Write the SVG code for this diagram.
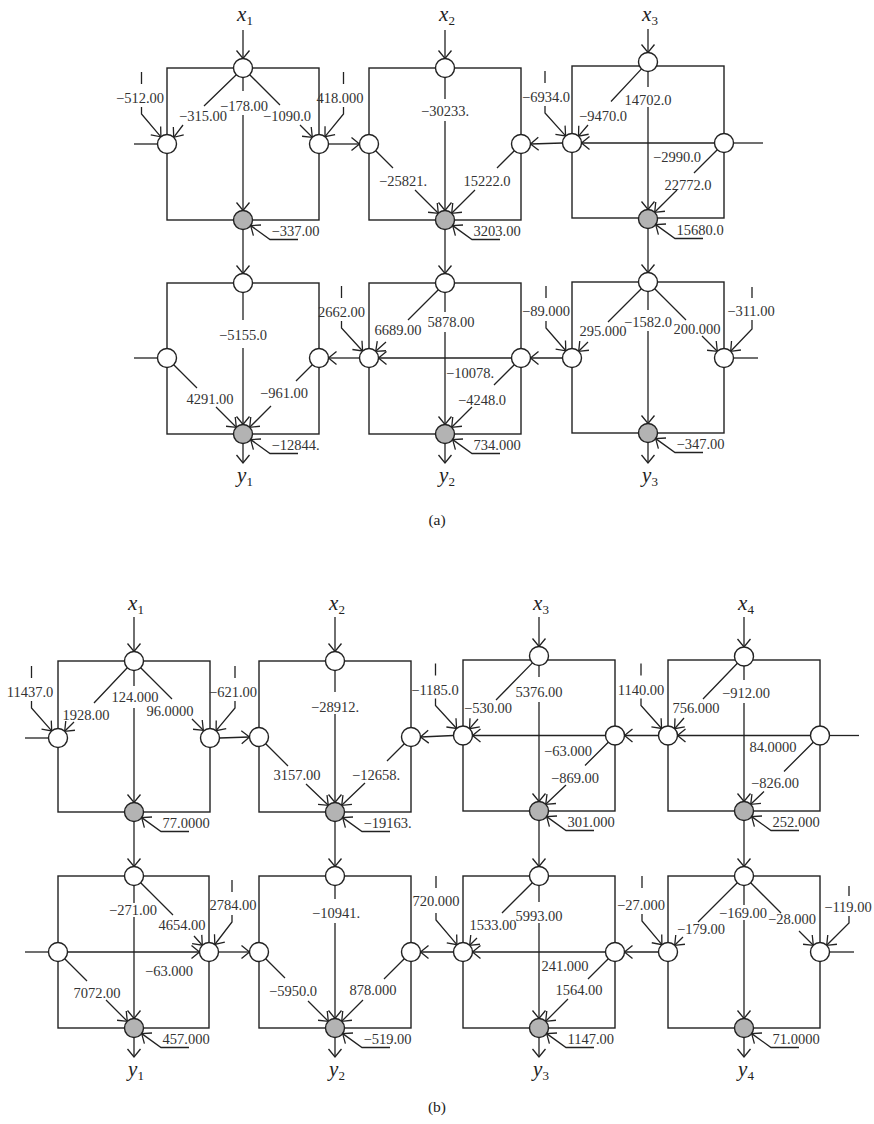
<svg xmlns="http://www.w3.org/2000/svg" width="874" height="1124" viewBox="0 0 874 1124">
<style>
.ln{stroke:#222;stroke-width:1.3;fill:none}
.bx{stroke:#222;stroke-width:1.4;fill:none}
.nd{fill:#fff;stroke:#222;stroke-width:1.4}
.gn{fill:#b3b3b3;stroke:#222;stroke-width:1.4}
.t{font-family:"Liberation Serif",serif;font-size:14.5px;fill:#333;text-anchor:middle}
.ts{font-family:"Liberation Serif",serif;font-size:14.5px;fill:#333;text-anchor:start}
.v{font-family:"Liberation Serif",serif;font-size:21px;fill:#222;text-anchor:middle}
.cap{font-family:"Liberation Serif",serif;font-size:15.5px;fill:#222;text-anchor:middle}
</style>
<defs>
<marker id="a" viewBox="-10 -8 12 16" refX="0" refY="0" markerWidth="12" markerHeight="16" markerUnits="userSpaceOnUse" orient="auto">
<path d="M-8,-6.5 L0,0 L-8,6.5" fill="none" stroke="#222" stroke-width="1.3"/>
</marker>
</defs>
<rect width="874" height="1124" fill="#fff"/>

<!-- boxes -->
<g id="boxes">
<rect class="bx" x="167" y="68" width="152" height="152"/>
<rect class="bx" x="369" y="68" width="152" height="152"/>
<rect class="bx" x="572" y="66" width="152" height="152"/>
<rect class="bx" x="167" y="283" width="152" height="151"/>
<rect class="bx" x="369" y="283" width="152" height="151"/>
<rect class="bx" x="572" y="282" width="152" height="151"/>
<rect class="bx" x="58" y="661" width="152" height="151"/>
<rect class="bx" x="259" y="661" width="152" height="151"/>
<rect class="bx" x="463" y="660" width="152" height="151"/>
<rect class="bx" x="668" y="660" width="152" height="151"/>
<rect class="bx" x="58" y="876" width="151" height="152"/>
<rect class="bx" x="259" y="876" width="152" height="152"/>
<rect class="bx" x="463" y="876" width="152" height="152"/>
<rect class="bx" x="668" y="876" width="152" height="152"/>
</g>

<g id="connectors">
<!-- (a) inputs -->
<path class="ln" marker-end="url(#a)" d="M243,30 L243,58.5"/>
<path class="ln" marker-end="url(#a)" d="M445,30 L445,58.5"/>
<path class="ln" marker-end="url(#a)" d="M648,29 L648,52.5"/>
<!-- A1 -->
<path class="ln" marker-end="url(#a)" d="M243,77.5 L243,91 M243,115 L243,210.5"/>
<path class="ln" marker-end="url(#a)" d="M236.3,74.7 L204,106 M183,125 L173.7,137.3"/>
<path class="ln" marker-end="url(#a)" d="M249.7,74.7 L280,105 M300,125 L312.3,137.3"/>
<path class="ln" marker-end="url(#a)" d="M141.5,72 L141.5,84 M141.5,107 L141.5,114 L160.9,136.8"/>
<path class="ln" marker-end="url(#a)" d="M343.5,72 L343.5,84 M343.5,107 L343.5,114 L325,136.6"/>
<path class="ln" d="M134,144 L157.5,144"/>
<path class="ln" marker-end="url(#a)" d="M328.5,144 L359.5,144"/>
<path class="ln" marker-end="url(#a)" d="M298,239.5 L270,239.5 L250.7,225.6"/>
<path class="ln" marker-end="url(#a)" d="M243,229.5 L243,273.5"/>
<!-- A2 -->
<path class="ln" marker-end="url(#a)" d="M445,77.5 L445,99 M445,121 L445,210.5"/>
<path class="ln" marker-end="url(#a)" d="M375.7,150.7 L393,168 M415,190 L438.3,213.3"/>
<path class="ln" marker-end="url(#a)" d="M514.3,150.7 L497,168 M475,190 L451.7,213.3"/>
<path class="ln" marker-end="url(#a)" d="M562.5,143 L530.5,144"/>
<path class="ln" marker-end="url(#a)" d="M545,71 L545,83 M545,106 L545,113 L565.6,135.9"/>
<path class="ln" marker-end="url(#a)" d="M500,239.5 L472,239.5 L452.7,225.6"/>
<path class="ln" marker-end="url(#a)" d="M445,229.5 L445,273.5"/>
<!-- A3 -->
<path class="ln" marker-end="url(#a)" d="M641.5,68.9 L611,101.5 M588,125 L578.5,136.1"/>
<path class="ln" marker-end="url(#a)" d="M648,71.5 L648,87 M648,107 L648,209.5"/>
<path class="ln" d="M733.5,143 L763,143"/>
<path class="ln" marker-end="url(#a)" d="M714.5,143 L581.5,143"/>
<path class="ln" marker-end="url(#a)" d="M717.3,149.7 L694,173 M677,190 L654.7,212.3"/>
<path class="ln" marker-end="url(#a)" d="M703,238.5 L675,238.5 L655.7,224.6"/>
<path class="ln" marker-end="url(#a)" d="M648,228.5 L648,272.5"/>
<!-- B1 -->
<path class="ln" marker-end="url(#a)" d="M243,292.5 L243,320 M243,348 L243,424.5"/>
<path class="ln" d="M134,358 L157.5,358"/>
<path class="ln" marker-end="url(#a)" d="M173.7,364.7 L197,388 M216,407 L236.3,427.3"/>
<path class="ln" marker-end="url(#a)" d="M312.3,364.7 L296,381 M271,406 L249.7,427.3"/>
<path class="ln" marker-end="url(#a)" d="M359.5,358 L328.5,358"/>
<path class="ln" marker-end="url(#a)" d="M341.5,286 L341.5,298 M341.5,321 L341.5,328 L362.6,351"/>
<path class="ln" marker-end="url(#a)" d="M298,453.5 L270,453.5 L250.7,439.6"/>
<path class="ln" marker-end="url(#a)" d="M243,443.5 L243,463"/>
<!-- B2 -->
<path class="ln" marker-end="url(#a)" d="M438.3,289.7 L408,320 M386,342 L375.7,351.3"/>
<path class="ln" marker-end="url(#a)" d="M445,292.5 L445,312 M445,332 L445,424.5"/>
<path class="ln" marker-end="url(#a)" d="M511.5,358 L378.5,358"/>
<path class="ln" marker-end="url(#a)" d="M514.3,364.7 L494,385 M472,407 L451.7,427.3"/>
<path class="ln" marker-end="url(#a)" d="M562.5,358 L530.5,358"/>
<path class="ln" marker-end="url(#a)" d="M546,286 L546,298 M546,321 L546,328 L565.8,350.8"/>
<path class="ln" marker-end="url(#a)" d="M500,453.5 L472,453.5 L452.7,439.6"/>
<path class="ln" marker-end="url(#a)" d="M445,443.5 L445,463"/>
<!-- B3 -->
<path class="ln" marker-end="url(#a)" d="M641.3,288.7 L608,322 M588,342 L578.7,351.3"/>
<path class="ln" marker-end="url(#a)" d="M648,291.5 L648,310 M648,331 L648,423.5"/>
<path class="ln" marker-end="url(#a)" d="M654.7,288.7 L686,320 M702,336 L717.3,351.3"/>
<path class="ln" marker-end="url(#a)" d="M752,287 L752,298 M752,320 L752,329 L730.7,351.3"/>
<path class="ln" d="M733.5,358 L758,358"/>
<path class="ln" marker-end="url(#a)" d="M703,452.5 L675,452.5 L655.7,438.6"/>
<path class="ln" marker-end="url(#a)" d="M648,442.5 L648,463"/>

<!-- (b) inputs -->
<path class="ln" marker-end="url(#a)" d="M134,617 L134,651.5"/>
<path class="ln" marker-end="url(#a)" d="M335,617 L335,651.5"/>
<path class="ln" marker-end="url(#a)" d="M539,617 L539,646.5"/>
<path class="ln" marker-end="url(#a)" d="M744,617 L744,647"/>
<!-- C1 -->
<path class="ln" d="M25,738 L48.5,738"/>
<path class="ln" marker-end="url(#a)" d="M31.5,666 L31.5,678 M31.5,701 L31.5,708 L51.7,730.9"/>
<path class="ln" marker-end="url(#a)" d="M127.3,667.7 L94,703 M74,722 L64.7,731.3"/>
<path class="ln" marker-end="url(#a)" d="M134,670.5 L134,686 M134,708 L134,802.5"/>
<path class="ln" marker-end="url(#a)" d="M140.7,667.7 L172,699 M192,719 L203.3,730.3"/>
<path class="ln" marker-end="url(#a)" d="M235,666 L235,678 M235,701 L235,708 L216.1,730.7"/>
<path class="ln" marker-end="url(#a)" d="M219.5,738 L249.5,737"/>
<path class="ln" marker-end="url(#a)" d="M189,831.5 L161,831.5 L141.7,817.6"/>
<path class="ln" marker-end="url(#a)" d="M134,821.5 L134,866.5"/>
<!-- C2 -->
<path class="ln" marker-end="url(#a)" d="M335,670.5 L335,692 M335,714 L335,802.5"/>
<path class="ln" marker-end="url(#a)" d="M265.7,743.7 L288,766 M306,784 L328.3,805.3"/>
<path class="ln" marker-end="url(#a)" d="M404.3,743.7 L387,761 M365,783 L341.7,805.3"/>
<path class="ln" marker-end="url(#a)" d="M453.5,735.5 L420.5,737"/>
<path class="ln" marker-end="url(#a)" d="M435.5,663.5 L435.5,675.5 M435.5,698.5 L435.5,705.5 L456.6,728.5"/>
<path class="ln" marker-end="url(#a)" d="M390,831.5 L362,831.5 L342.7,817.6"/>
<path class="ln" marker-end="url(#a)" d="M335,821.5 L335,866.5"/>
<!-- C3 -->
<path class="ln" marker-end="url(#a)" d="M532.4,662.9 L496,700 M478,719 L469.6,728.6"/>
<path class="ln" marker-end="url(#a)" d="M539,665.5 L539,677 M539,702 L539,801.5"/>
<path class="ln" marker-end="url(#a)" d="M605.5,735.5 L472.5,735.5"/>
<path class="ln" marker-end="url(#a)" d="M608.3,742.2 L585,765.5 M566,785 L545.7,804.3"/>
<path class="ln" marker-end="url(#a)" d="M658.5,735.5 L624.5,735.5"/>
<path class="ln" marker-end="url(#a)" d="M641,663.5 L641,675.5 M641,698.5 L641,705.5 L661.6,728.5"/>
<path class="ln" marker-end="url(#a)" d="M594,830.5 L566,830.5 L546.7,816.6"/>
<path class="ln" marker-end="url(#a)" d="M539,820.5 L539,866.5"/>
<!-- C4 -->
<path class="ln" marker-end="url(#a)" d="M737.4,663.3 L703,699 M684,718 L674.6,728.7"/>
<path class="ln" marker-end="url(#a)" d="M744,666 L744,680 M744,703 L744,801.5"/>
<path class="ln" marker-end="url(#a)" d="M810.5,735.5 L677.5,735.5"/>
<path class="ln" d="M829.5,735.5 L859,735.5"/>
<path class="ln" marker-end="url(#a)" d="M813.3,742.2 L784,771.5 M764,791.5 L750.7,804.3"/>
<path class="ln" marker-end="url(#a)" d="M799,830.5 L771,830.5 L751.7,816.6"/>
<path class="ln" marker-end="url(#a)" d="M744,820.5 L744,866.5"/>
<!-- D1 -->
<path class="ln" marker-end="url(#a)" d="M134,885.5 L134,903 M134,917 L134,1018.5"/>
<path class="ln" marker-end="url(#a)" d="M140.7,882.8 L173,915 M194,936 L202.3,945.2"/>
<path class="ln" d="M25,952 L48.5,952"/>
<path class="ln" marker-end="url(#a)" d="M67.5,952 L199.5,952"/>
<path class="ln" marker-end="url(#a)" d="M64.7,958.7 L87,981 M106,1000 L127.3,1021.3"/>
<path class="ln" marker-end="url(#a)" d="M232,880 L232,892 M232,915 L232,922 L214.8,944.5"/>
<path class="ln" marker-end="url(#a)" d="M218.5,952 L249.5,952"/>
<path class="ln" marker-end="url(#a)" d="M189,1047.5 L161,1047.5 L141.7,1033.6"/>
<path class="ln" marker-end="url(#a)" d="M134,1037.5 L134,1057"/>
<!-- D2 -->
<path class="ln" marker-end="url(#a)" d="M335,885.5 L335,899 M335,923 L335,1018.5"/>
<path class="ln" marker-end="url(#a)" d="M265.7,958.7 L285,978 M308,1001 L328.3,1021.3"/>
<path class="ln" marker-end="url(#a)" d="M404.3,958.7 L384,979 M363,1000 L341.7,1021.3"/>
<path class="ln" marker-end="url(#a)" d="M453.5,952 L420.5,952"/>
<path class="ln" marker-end="url(#a)" d="M436,876 L436,888 M436,913 L436,920 L456.9,944.7"/>
<path class="ln" marker-end="url(#a)" d="M390,1047.5 L362,1047.5 L342.7,1033.6"/>
<path class="ln" marker-end="url(#a)" d="M335,1037.5 L335,1057"/>
<!-- D3 -->
<path class="ln" marker-end="url(#a)" d="M532.3,882.7 L502,913 M477,938 L469.7,945.3"/>
<path class="ln" marker-end="url(#a)" d="M539,885.5 L539,902 M539,923 L539,1018.5"/>
<path class="ln" marker-end="url(#a)" d="M605.5,952 L472.5,952"/>
<path class="ln" marker-end="url(#a)" d="M608.3,958.7 L588,979 M568,999 L545.7,1021.3"/>
<path class="ln" marker-end="url(#a)" d="M658.5,952 L624.5,952"/>
<path class="ln" marker-end="url(#a)" d="M642,876 L642,888 M642,914 L642,921 L661.9,944.7"/>
<path class="ln" marker-end="url(#a)" d="M594,1047.5 L566,1047.5 L546.7,1033.6"/>
<path class="ln" marker-end="url(#a)" d="M539,1037.5 L539,1057"/>
<!-- D4 -->
<path class="ln" marker-end="url(#a)" d="M737.3,882.7 L698,922 M683,937 L674.7,945.3"/>
<path class="ln" marker-end="url(#a)" d="M744,885.5 L744,905 M744,920 L744,1018.5"/>
<path class="ln" marker-end="url(#a)" d="M750.7,882.7 L781,913 M799,931 L813.3,945.3"/>
<path class="ln" marker-end="url(#a)" d="M849,886 L849,896 M849,916 L849,923 L826.7,945.3"/>
<path class="ln" d="M829.5,952 L854,952"/>
<path class="ln" marker-end="url(#a)" d="M799,1047.5 L771,1047.5 L751.7,1033.6"/>
<path class="ln" marker-end="url(#a)" d="M744,1037.5 L744,1057"/>
</g>

<!-- nodes (a) -->
<g id="a1-top"><circle class="nd" cx="243" cy="68" r="9.5"/></g>
<g id="a1-left"><circle class="nd" cx="167" cy="144" r="9.5"/></g>
<g id="a1-right"><circle class="nd" cx="319" cy="144" r="9.5"/></g>
<g id="a1-out"><circle class="gn" cx="243" cy="220" r="9.5"/></g>
<g id="a2-top"><circle class="nd" cx="445" cy="68" r="9.5"/></g>
<g id="a2-left"><circle class="nd" cx="369" cy="144" r="9.5"/></g>
<g id="a2-right"><circle class="nd" cx="521" cy="144" r="9.5"/></g>
<g id="a2-out"><circle class="gn" cx="445" cy="220" r="9.5"/></g>
<g id="a3-top"><circle class="nd" cx="648" cy="62" r="9.5"/></g>
<g id="a3-left"><circle class="nd" cx="572" cy="143" r="9.5"/></g>
<g id="a3-right"><circle class="nd" cx="724" cy="143" r="9.5"/></g>
<g id="a3-out"><circle class="gn" cx="648" cy="219" r="9.5"/></g>
<g id="a4-top"><circle class="nd" cx="243" cy="283" r="9.5"/></g>
<g id="a4-left"><circle class="nd" cx="167" cy="358" r="9.5"/></g>
<g id="a4-right"><circle class="nd" cx="319" cy="358" r="9.5"/></g>
<g id="a4-out"><circle class="gn" cx="243" cy="434" r="9.5"/></g>
<g id="a5-top"><circle class="nd" cx="445" cy="283" r="9.5"/></g>
<g id="a5-left"><circle class="nd" cx="369" cy="358" r="9.5"/></g>
<g id="a5-right"><circle class="nd" cx="521" cy="358" r="9.5"/></g>
<g id="a5-out"><circle class="gn" cx="445" cy="434" r="9.5"/></g>
<g id="a6-top"><circle class="nd" cx="648" cy="282" r="9.5"/></g>
<g id="a6-left"><circle class="nd" cx="572" cy="358" r="9.5"/></g>
<g id="a6-right"><circle class="nd" cx="724" cy="358" r="9.5"/></g>
<g id="a6-out"><circle class="gn" cx="648" cy="433" r="9.5"/></g>
<!-- nodes (b) -->
<g id="b1-top"><circle class="nd" cx="134" cy="661" r="9.5"/></g>
<g id="b1-left"><circle class="nd" cx="58" cy="738" r="9.5"/></g>
<g id="b1-right"><circle class="nd" cx="210" cy="738" r="9.5"/></g>
<g id="b1-out"><circle class="gn" cx="134" cy="812" r="9.5"/></g>
<g id="b2-top"><circle class="nd" cx="335" cy="661" r="9.5"/></g>
<g id="b2-left"><circle class="nd" cx="259" cy="737" r="9.5"/></g>
<g id="b2-right"><circle class="nd" cx="411" cy="737" r="9.5"/></g>
<g id="b2-out"><circle class="gn" cx="335" cy="812" r="9.5"/></g>
<g id="b3-top"><circle class="nd" cx="539" cy="656" r="9.5"/></g>
<g id="b3-left"><circle class="nd" cx="463" cy="735.5" r="9.5"/></g>
<g id="b3-right"><circle class="nd" cx="615" cy="735.5" r="9.5"/></g>
<g id="b3-out"><circle class="gn" cx="539" cy="811" r="9.5"/></g>
<g id="b4-top"><circle class="nd" cx="744" cy="656.5" r="9.5"/></g>
<g id="b4-left"><circle class="nd" cx="668" cy="735.5" r="9.5"/></g>
<g id="b4-right"><circle class="nd" cx="820" cy="735.5" r="9.5"/></g>
<g id="b4-out"><circle class="gn" cx="744" cy="811" r="9.5"/></g>
<g id="b5-top"><circle class="nd" cx="134" cy="876" r="9.5"/></g>
<g id="b5-left"><circle class="nd" cx="58" cy="952" r="9.5"/></g>
<g id="b5-right"><circle class="nd" cx="209" cy="952" r="9.5"/></g>
<g id="b5-out"><circle class="gn" cx="134" cy="1028" r="9.5"/></g>
<g id="b6-top"><circle class="nd" cx="335" cy="876" r="9.5"/></g>
<g id="b6-left"><circle class="nd" cx="259" cy="952" r="9.5"/></g>
<g id="b6-right"><circle class="nd" cx="411" cy="952" r="9.5"/></g>
<g id="b6-out"><circle class="gn" cx="335" cy="1028" r="9.5"/></g>
<g id="b7-top"><circle class="nd" cx="539" cy="876" r="9.5"/></g>
<g id="b7-left"><circle class="nd" cx="463" cy="952" r="9.5"/></g>
<g id="b7-right"><circle class="nd" cx="615" cy="952" r="9.5"/></g>
<g id="b7-out"><circle class="gn" cx="539" cy="1028" r="9.5"/></g>
<g id="b8-top"><circle class="nd" cx="744" cy="876" r="9.5"/></g>
<g id="b8-left"><circle class="nd" cx="668" cy="952" r="9.5"/></g>
<g id="b8-right"><circle class="nd" cx="820" cy="952" r="9.5"/></g>
<g id="b8-out"><circle class="gn" cx="744" cy="1028" r="9.5"/></g>

<g id="labels">
<!-- io labels -->
<text class="v" x="245" y="21"><tspan font-style="italic">x</tspan><tspan font-size="13" dy="4">1</tspan></text>
<text class="v" x="447" y="21"><tspan font-style="italic">x</tspan><tspan font-size="13" dy="4">2</tspan></text>
<text class="v" x="650" y="21"><tspan font-style="italic">x</tspan><tspan font-size="13" dy="4">3</tspan></text>
<text class="v" x="245" y="482"><tspan font-style="italic">y</tspan><tspan font-size="13" dy="4">1</tspan></text>
<text class="v" x="447" y="482"><tspan font-style="italic">y</tspan><tspan font-size="13" dy="4">2</tspan></text>
<text class="v" x="650" y="482"><tspan font-style="italic">y</tspan><tspan font-size="13" dy="4">3</tspan></text>
<text class="v" x="136" y="610"><tspan font-style="italic">x</tspan><tspan font-size="13" dy="4">1</tspan></text>
<text class="v" x="337" y="610"><tspan font-style="italic">x</tspan><tspan font-size="13" dy="4">2</tspan></text>
<text class="v" x="541" y="610"><tspan font-style="italic">x</tspan><tspan font-size="13" dy="4">3</tspan></text>
<text class="v" x="746" y="610"><tspan font-style="italic">x</tspan><tspan font-size="13" dy="4">4</tspan></text>
<text class="v" x="136" y="1076"><tspan font-style="italic">y</tspan><tspan font-size="13" dy="4">1</tspan></text>
<text class="v" x="337" y="1076"><tspan font-style="italic">y</tspan><tspan font-size="13" dy="4">2</tspan></text>
<text class="v" x="541" y="1076"><tspan font-style="italic">y</tspan><tspan font-size="13" dy="4">3</tspan></text>
<text class="v" x="746" y="1076"><tspan font-style="italic">y</tspan><tspan font-size="13" dy="4">4</tspan></text>
<text class="cap" x="437" y="525">(a)</text>
<text class="cap" x="437" y="1112">(b)</text>

<!-- (a) weights -->
<text class="t" x="140" y="103">−512.00</text>
<text class="t" x="203" y="121">−315.00</text>
<text class="t" x="244" y="111">−178.00</text>
<text class="t" x="287" y="121">−1090.0</text>
<text class="t" x="340" y="103">418.000</text>
<text class="ts" x="271.5" y="236">−337.00</text>
<text class="t" x="445" y="116">−30233.</text>
<text class="t" x="403" y="186">−25821.</text>
<text class="t" x="487" y="186">15222.0</text>
<text class="t" x="546" y="102">−6934.0</text>
<text class="ts" x="473.5" y="236">3203.00</text>
<text class="t" x="603" y="121">−9470.0</text>
<text class="t" x="648" y="105">14702.0</text>
<text class="t" x="677" y="162">−2990.0</text>
<text class="t" x="688" y="190">22772.0</text>
<text class="ts" x="676.5" y="235">15680.0</text>
<text class="t" x="243" y="340">−5155.0</text>
<text class="t" x="210" y="404">4291.00</text>
<text class="t" x="284" y="398">−961.00</text>
<text class="t" x="341.5" y="317">2662.00</text>
<text class="ts" x="271.5" y="450">−12844.</text>
<text class="t" x="398" y="335">6689.00</text>
<text class="t" x="451" y="327">5878.00</text>
<text class="t" x="470" y="378">−10078.</text>
<text class="t" x="482" y="405">−4248.0</text>
<text class="t" x="546" y="316">−89.000</text>
<text class="ts" x="473.5" y="450">734.000</text>
<text class="t" x="603" y="336">295.000</text>
<text class="t" x="648" y="327">−1582.0</text>
<text class="t" x="697" y="334">200.000</text>
<text class="t" x="751" y="316">−311.00</text>
<text class="ts" x="676.5" y="449">−347.00</text>

<!-- (b) weights -->
<text class="t" x="30" y="697">11437.0</text>
<text class="t" x="86" y="720">1928.00</text>
<text class="t" x="135" y="702">124.000</text>
<text class="t" x="170" y="716">96.0000</text>
<text class="t" x="233" y="697">−621.00</text>
<text class="ts" x="162.5" y="828">77.0000</text>
<text class="t" x="335" y="712">−28912.</text>
<text class="t" x="297" y="780">3157.00</text>
<text class="t" x="376" y="780">−12658.</text>
<text class="t" x="435" y="694.5">−1185.0</text>
<text class="ts" x="363.5" y="828">−19163.</text>
<text class="t" x="488" y="713">−530.00</text>
<text class="t" x="539" y="697">5376.00</text>
<text class="t" x="568" y="756">−63.000</text>
<text class="t" x="575" y="783">−869.00</text>
<text class="t" x="641" y="694.5">1140.00</text>
<text class="ts" x="567.5" y="827">301.000</text>
<text class="t" x="696" y="713">756.000</text>
<text class="t" x="746" y="698">−912.00</text>
<text class="t" x="773" y="752">84.0000</text>
<text class="t" x="775" y="788">−826.00</text>
<text class="ts" x="772.5" y="827">252.000</text>
<text class="t" x="133" y="915">−271.00</text>
<text class="t" x="182" y="930">4654.00</text>
<text class="t" x="233" y="910">2784.00</text>
<text class="t" x="169" y="976">−63.000</text>
<text class="t" x="97" y="998">7072.00</text>
<text class="ts" x="162.5" y="1044">457.000</text>
<text class="t" x="336" y="918">−10941.</text>
<text class="t" x="293" y="996">−5950.0</text>
<text class="t" x="373" y="995">878.000</text>
<text class="t" x="436" y="906">720.000</text>
<text class="ts" x="363.5" y="1044">−519.00</text>
<text class="t" x="493" y="930">1533.00</text>
<text class="t" x="539" y="921">5993.00</text>
<text class="t" x="565" y="971">241.000</text>
<text class="t" x="579" y="995">1564.00</text>
<text class="t" x="641" y="910">−27.000</text>
<text class="ts" x="567.5" y="1044">1147.00</text>
<text class="t" x="701" y="934">−179.00</text>
<text class="t" x="743" y="918">−169.00</text>
<text class="t" x="792" y="924">−28.000</text>
<text class="t" x="848" y="912">−119.00</text>
<text class="ts" x="772.5" y="1044">71.0000</text>
</g>
</svg>
